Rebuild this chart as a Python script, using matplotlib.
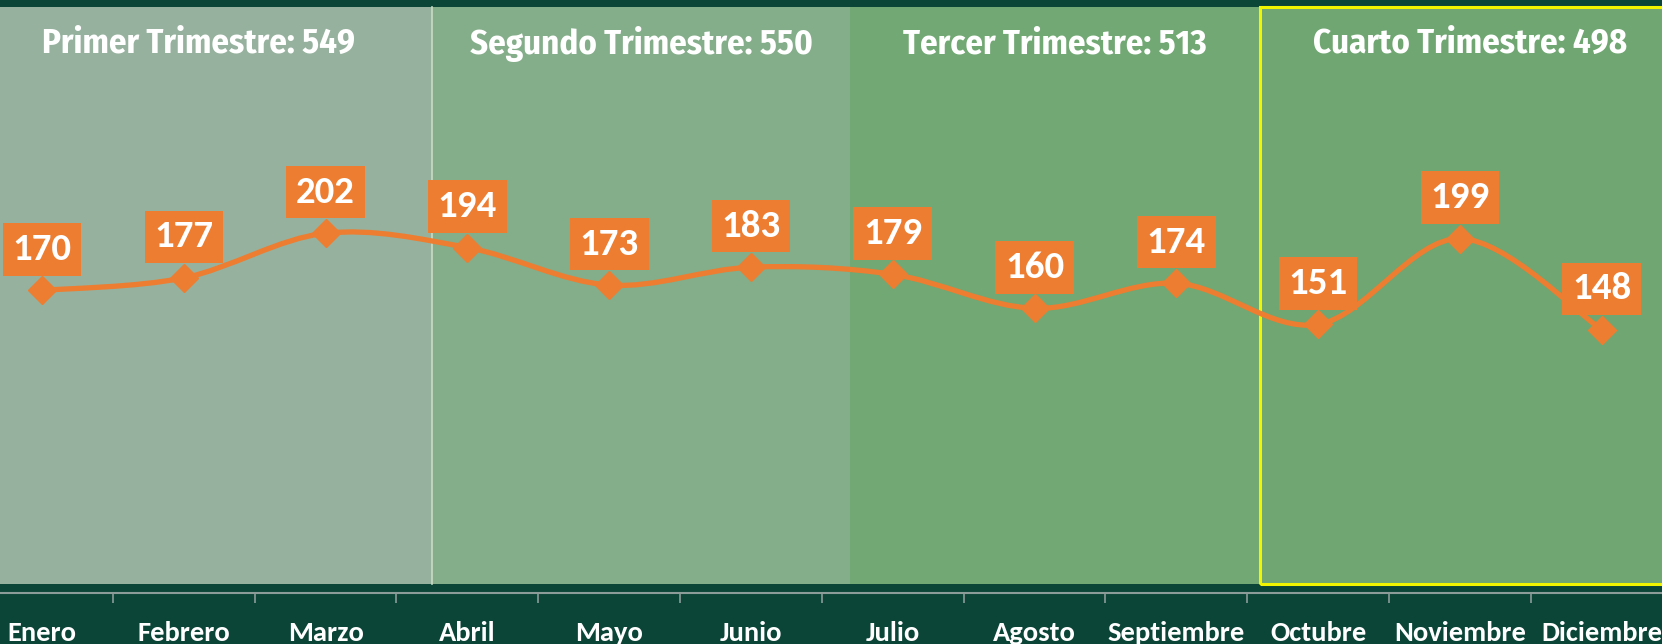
import matplotlib.pyplot as plt
from matplotlib.path import Path
from matplotlib.patches import PathPatch, Rectangle
import matplotlib.transforms as mtransforms
import numpy as np

# data
meses = ["Enero", "Febrero", "Marzo", "Abril", "Mayo", "Junio", "Julio",
         "Agosto", "Septiembre", "Octubre", "Noviembre", "Diciembre"]
valores = [170, 177, 202, 194, 173, 183, 179, 160, 174, 151, 199, 148]
trimestres = ["Primer Trimestre: 549", "Segundo Trimestre: 550",
              "Tercer Trimestre: 513", "Cuarto Trimestre: 498"]

# background bands (x in category units)
bandas = [(-0.54, 2.75), (2.75, 5.70), (5.70, 8.59), (8.59, 11.55)]
colores_banda = ["#96b19e", "#84ad8a", "#71a873", "#6fa671"]

naranja = "#ed7d31"
fondo = "#0b4538"
fuente = ["Carlito", "Roboto", "DejaVu Sans"]
fuente_titulo = ["Fira Sans Condensed", "Roboto", "DejaVu Sans"]

fig = plt.figure(figsize=(16.62, 6.44), dpi=100)
fig.patch.set_facecolor(fondo)
ax = fig.add_axes([0, 1 - 593 / 644, 1, 593 / 644])
ax.set_facecolor(fondo)
ax.set_xlim(-0.296, 11.425)
ax.set_ylim(0.7, 332.5)

trans = mtransforms.blended_transform_factory(ax.transData, ax.transAxes)
y0, y1 = 9 / 593, 586 / 593
for (a, b), c in zip(bandas, colores_banda):
    ax.add_patch(Rectangle((a, y0), b - a, y1 - y0, transform=trans,
                           facecolor=c, edgecolor="none", zorder=0))
ax.plot([bandas[0][1]] * 2, [y0, y1], transform=trans, color="#c9dcc4",
        lw=1.2, zorder=1)
a, b = bandas[3]
ax.add_patch(Rectangle((a, y0), b - a, y1 - y0, transform=trans,
                       facecolor="none", edgecolor="#f2f500", lw=2.2, zorder=2))

for (a, b), t in zip(bandas, trimestres):
    ax.text((a + b) / 2, 549 / 593, t, transform=trans, ha="center", va="center",
            color="white", fontsize=25, fontweight="bold",
            family=fuente_titulo, zorder=5)

# smooth line (Catmull-Rom as cubic Bezier)
x = np.arange(len(valores), dtype=float)
y = np.array(valores, dtype=float)
pts = np.column_stack([x, y])
ext = np.vstack([pts[0], pts, pts[-1]])
verts = [pts[0]]
codes = [Path.MOVETO]
for i in range(len(pts) - 1):
    p0, p1, p2, p3 = ext[i], ext[i + 1], ext[i + 2], ext[i + 3]
    verts += [p1 + (p2 - p0) / 6, p2 - (p3 - p1) / 6, p2]
    codes += [Path.CURVE4] * 3
ax.add_patch(PathPatch(Path(verts, codes), facecolor="none", edgecolor=naranja,
                       lw=3.8, zorder=3, capstyle="round"))
ax.plot(x, y, linestyle="none", marker="D", markersize=14, color=naranja, zorder=4)

for xi, v in zip(x, valores):
    ax.annotate(str(v), (xi, v), xytext=(0, 41), textcoords="offset pixels",
                ha="center", va="center", color="white", fontsize=28,
                fontweight="bold", family=fuente, zorder=6,
                bbox=dict(boxstyle="square,pad=0.25", facecolor=naranja,
                          edgecolor="none"))

# bottom axis
for s in ["top", "left", "right"]:
    ax.spines[s].set_visible(False)
ax.spines["bottom"].set_color("#8c9c98")
ax.spines["bottom"].set_linewidth(1.5)
ax.set_yticks([])
ax.set_xticks(x)
ax.set_xticklabels(meses, color="white", fontsize=20.5, fontweight="bold",
                   family=fuente)
ax.tick_params(axis="x", which="major", length=0, pad=20)
ax.set_xticks(x[:-1] + 0.5, minor=True)
ax.tick_params(axis="x", which="minor", length=7, width=1.2, color="#8c9c98",
               direction="out")

fig.savefig("out.png", dpi=100, facecolor=fig.get_facecolor())
